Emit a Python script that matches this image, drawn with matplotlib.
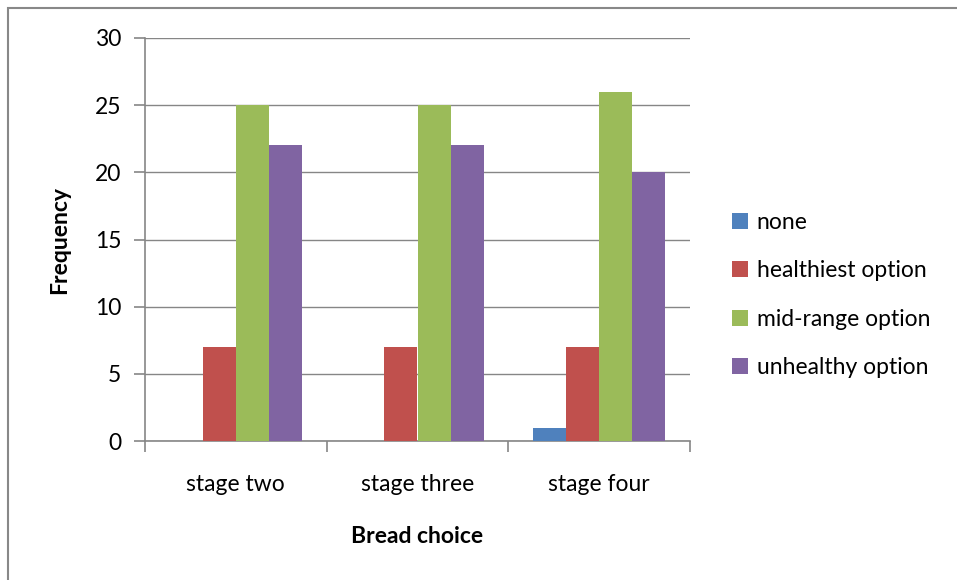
import matplotlib
matplotlib.use("Agg")
import matplotlib.pyplot as plt
from matplotlib.patches import Rectangle, Patch
import numpy as np

plt.rcParams['font.family'] = ['Lato', 'DejaVu Sans']

stages = ["stage two", "stage three", "stage four"]
series_names = ["none", "healthiest option", "mid-range option", "unhealthy option"]
none_vals = [0, 0, 1]
healthiest_vals = [7, 7, 7]
midrange_vals = [25, 25, 26]
unhealthy_vals = [22, 22, 20]
colors = ["#4F81BD", "#C0504D", "#9BBB59", "#8064A2"]
y_ticks = [0, 5, 10, 15, 20, 25, 30]

W, H = 957, 580
fig = plt.figure(figsize=(W / 100, H / 100), dpi=100)

# outer chart frame
fig.patches.append(Rectangle((8 / W, -0.1), 1.2, 1 - 8 / H + 0.1, transform=fig.transFigure,
                             fill=False, edgecolor="#888888", linewidth=1.5))

ax = fig.add_axes([145 / W, 1 - 441 / H, (690 - 145) / W, (441 - 38) / H])

x = np.arange(len(stages))
bw = 0.182
all_vals = [none_vals, healthiest_vals, midrange_vals, unhealthy_vals]
for i, (vals, c) in enumerate(zip(all_vals, colors)):
    ax.bar(x + (i - 1.5) * bw, vals, width=bw, color=c, zorder=3)

fs = 16.5
ax.set_xlim(-0.5, 2.5)
ax.set_ylim(0, 30)
ax.set_yticks(y_ticks)
ax.set_yticklabels([str(t) for t in y_ticks], fontsize=fs)
ax.yaxis.grid(True, color="#868686", linewidth=1.0, zorder=0)
ax.set_axisbelow(True)

ax.set_xticks([-0.5, 0.5, 1.5, 2.5])
ax.set_xticklabels([])
ax.set_xticks(x, minor=True)
ax.set_xticklabels(stages, minor=True, fontsize=fs)
ax.tick_params(axis='x', which='minor', length=0, pad=24)
ax.tick_params(axis='x', which='major', length=8, color="#868686", width=1.2)
ax.tick_params(axis='y', length=8, color="#868686", width=1.2, pad=9)

for s in ["top", "right"]:
    ax.spines[s].set_visible(False)
for s in ["left", "bottom"]:
    ax.spines[s].set_color("#868686")
    ax.spines[s].set_linewidth(1.2)

ax.set_ylabel("Frequency", fontsize=fs, fontweight="bold", labelpad=18)
ax.set_xlabel("Bread choice", fontsize=fs, fontweight="bold", labelpad=22)

handles = [Patch(facecolor=c, edgecolor="none") for c in colors]
fig.legend(handles, series_names, loc="center left", bbox_to_anchor=(711 / W, 1 - 295 / H),
           frameon=False, fontsize=fs, handlelength=0.7, handleheight=0.7,
           handletextpad=0.4, labelspacing=1.2)

fig.savefig("out.png", dpi=100)
